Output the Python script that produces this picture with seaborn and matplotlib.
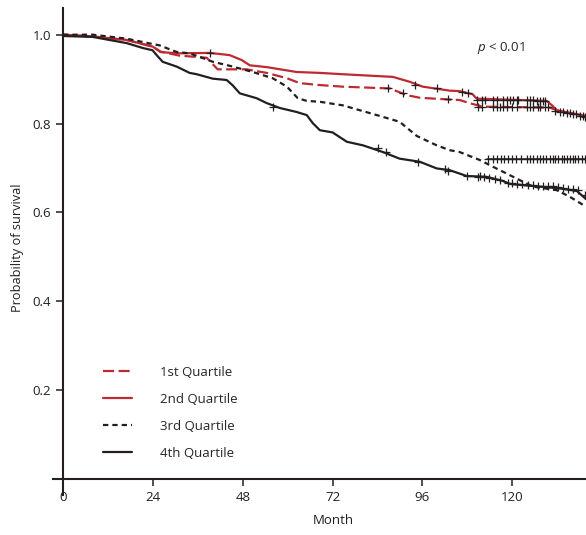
import seaborn as sns
import pandas as pd
import matplotlib.pyplot as plt

# survival curves (month, probability)
q1_month = [0, 8, 17, 24, 26, 31, 38.4, 39.7, 41.3, 49, 54.4, 59.8, 63.2, 68, 74.7, 87.3,
            91.8, 95.3, 103.3, 105.9, 109.4, 112.1, 130, 131.9, 139.7]
q1_surv = [1.0, 0.996, 0.988, 0.973, 0.962, 0.953, 0.948, 0.936, 0.922, 0.922, 0.914, 0.902,
           0.891, 0.887, 0.883, 0.879, 0.864, 0.858, 0.854, 0.853, 0.844, 0.838, 0.836, 0.830, 0.815]

q2_month = [0, 8, 17, 24, 26, 30.4, 39.2, 44.5, 47.7, 49.9, 54.4, 62.4, 68.6, 74.7, 88.1,
            92.6, 96.1, 103.3, 105.9, 109.4, 110.5, 129.2, 130.6, 131.9, 139.7]
q2_surv = [1.0, 0.996, 0.988, 0.973, 0.961, 0.958, 0.959, 0.954, 0.943, 0.931, 0.927, 0.916,
           0.914, 0.911, 0.905, 0.894, 0.883, 0.874, 0.873, 0.866, 0.856, 0.851, 0.841, 0.830, 0.817]

q3_month = [0, 7.9, 17.0, 23.9, 25.8, 28.5, 30.4, 33.8, 36.5, 40.0, 44.5, 50.7, 56.0, 59.8,
            62.7, 65.1, 68.6, 74.7, 83.8, 89.9, 94.5, 99.8, 103.3, 105.9, 111.3, 114.8, 121.2,
            125.5, 131.9, 135.4, 139.7]
q3_surv = [1.0, 1.0, 0.991, 0.979, 0.976, 0.967, 0.961, 0.958, 0.950, 0.939, 0.930, 0.916,
           0.902, 0.883, 0.857, 0.851, 0.849, 0.841, 0.819, 0.804, 0.772, 0.751, 0.740, 0.736,
           0.718, 0.703, 0.676, 0.658, 0.650, 0.635, 0.613]

q4_month = [0, 7.9, 17.0, 21.3, 23.9, 25.0, 26.6, 30.4, 33.8, 35.7, 40.0, 43.7, 45.3, 47.2,
            51.7, 54.4, 57.9, 62.4, 65.1, 66.7, 68.6, 72.0, 75.8, 80.1, 85.4, 89.9, 95.3, 99.8,
            103.3, 107.8, 113.2, 117.4, 119.4, 127.4, 132.7, 137.3, 139.7]
q4_surv = [0.997, 0.995, 0.981, 0.970, 0.965, 0.954, 0.939, 0.928, 0.914, 0.911, 0.901, 0.898,
           0.886, 0.868, 0.857, 0.846, 0.835, 0.826, 0.819, 0.801, 0.785, 0.780, 0.759, 0.751,
           0.736, 0.721, 0.714, 0.699, 0.695, 0.682, 0.680, 0.671, 0.664, 0.658, 0.654, 0.648, 0.630]

# censored observations
q1_cens_month = [86.7, 90.8, 102.8, 110.8, 111.9, 114.8, 115.9, 116.7, 117.5, 118.5, 119.9,
                 121.2, 123.9, 124.7, 125.5, 126.8, 127.4, 128.7, 129.5]
q1_cens_surv = [0.881, 0.868, 0.855, 0.838, 0.838, 0.838, 0.838, 0.838, 0.838, 0.838, 0.838,
                0.838, 0.838, 0.838, 0.838, 0.837, 0.837, 0.837, 0.837]

q2_cens_month = [39.2, 93.9, 99.8, 106.5, 108.1, 110.5, 111.9, 112.7, 114.8, 115.9, 117.5,
                 118.5, 119.3, 120.1, 121.2, 121.5, 123.9, 124.7, 125.5, 126.6, 127.4, 128.2,
                 128.7, 131.4, 132.7, 133.5, 134.6, 135.4, 136.2, 137.0, 138.0, 138.8, 139.4]
q2_cens_surv = [0.959, 0.886, 0.879, 0.872, 0.868, 0.853, 0.853, 0.853, 0.852, 0.852, 0.852,
                0.852, 0.852, 0.852, 0.852, 0.852, 0.852, 0.852, 0.852, 0.851, 0.851, 0.851,
                0.851, 0.829, 0.827, 0.826, 0.824, 0.823, 0.822, 0.821, 0.818, 0.817, 0.815]

q3_cens_month = [113.5, 114.8, 115.9, 116.9, 117.7, 118.8, 119.9, 120.9, 122.3, 123.9, 124.7,
                 125.5, 126.6, 127.4, 128.2, 129.0, 130.0, 130.8, 131.4, 132.2, 133.2, 133.8,
                 134.6, 135.4, 136.2, 136.7, 137.5, 138.6, 139.4]
q3_cens_surv = [0.721] * len(q3_cens_month)

q4_cens_month = [56.0, 84.1, 86.2, 94.8, 102.0, 102.8, 107.8, 110.8, 111.3, 112.4, 113.7, 115.3,
                 116.7, 118.8, 119.9, 121.2, 122.6, 124.2, 125.5, 126.8, 128.2, 129.5, 130.8,
                 132.2, 133.5, 134.8, 136.2, 137.5, 139.4]
q4_cens_surv = [0.838, 0.746, 0.737, 0.714, 0.697, 0.694, 0.682, 0.680, 0.681, 0.680, 0.677,
                0.676, 0.674, 0.667, 0.667, 0.665, 0.664, 0.662, 0.661, 0.660, 0.660, 0.659,
                0.659, 0.658, 0.654, 0.652, 0.652, 0.650, 0.640]

names = ["1st Quartile", "2nd Quartile", "3rd Quartile", "4th Quartile"]
red = "#BE2A32"
black = "#231F20"

curves = pd.concat([
    pd.DataFrame({"Month": q1_month, "Survival": q1_surv, "group": names[0]}),
    pd.DataFrame({"Month": q2_month, "Survival": q2_surv, "group": names[1]}),
    pd.DataFrame({"Month": q3_month, "Survival": q3_surv, "group": names[2]}),
    pd.DataFrame({"Month": q4_month, "Survival": q4_surv, "group": names[3]}),
], axis=0)

cens = pd.DataFrame({
    "Month": q1_cens_month + q2_cens_month + q3_cens_month + q4_cens_month,
    "Survival": q1_cens_surv + q2_cens_surv + q3_cens_surv + q4_cens_surv,
})
# the 3rd quartile censor marks sit on a flat line of their own
plateau = pd.DataFrame({"Month": [q3_cens_month[0] - 0.3, 139.7],
                        "Survival": [q3_cens_surv[0], q3_cens_surv[0]]})

sns.set_style("white")
plt.rcParams["font.family"] = ["Open Sans", "DejaVu Sans"]
plt.rcParams["mathtext.fontset"] = "custom"
plt.rcParams["mathtext.it"] = "Open Sans:italic"

fig, ax = plt.subplots(figsize=(5.86, 5.35), dpi=100)
fig.subplots_adjust(left=0.0904, right=1.0, bottom=0.0748, top=0.985)

palette = {names[0]: red, names[1]: red, names[2]: black, names[3]: black}
dashes = {names[0]: (5, 2), names[1]: "", names[2]: (2.4, 1.8), names[3]: ""}

sns.lineplot(x="Month", y="Survival", hue="group", style="group", data=curves,
             palette=palette, dashes=dashes, estimator=None, sort=False,
             linewidth=1.6, ax=ax)
sns.lineplot(x="Month", y="Survival", data=plateau, color=black, linewidth=1.1,
             estimator=None, legend=False, ax=ax)
sns.scatterplot(x="Month", y="Survival", data=cens, marker="+", s=40, color=black,
                linewidth=0.9, legend=False, ax=ax, zorder=5)

handles, labels = ax.get_legend_handles_labels()
ax.legend(handles, labels, frameon=False, loc="upper left",
          bbox_to_anchor=(0.1758, 1 - 366 / 535), bbox_transform=fig.transFigure,
          borderpad=0, borderaxespad=0, handlelength=2.2, handletextpad=2.1,
          labelspacing=1.05, fontsize=9.5)

ax.text(110.5, 0.970, "$p$ < 0.01", ha="left", va="center", fontsize=9.5)

ax.set_xlim(-2.7, 139.7)
ax.set_ylim(-0.036, 1.06)
ax.spines["left"].set_position(("data", 0))
ax.spines["bottom"].set_position(("data", 0))
ax.spines["top"].set_visible(False)
ax.spines["right"].set_visible(False)
for s in ["left", "bottom"]:
    ax.spines[s].set_linewidth(1.5)
    ax.spines[s].set_color(black)
ax.set_xticks([0, 24, 48, 72, 96, 120])
ax.set_yticks([0.2, 0.4, 0.6, 0.8, 1.0])
ax.set_yticklabels(["0.2", "0.4", "0.6", "0.8", "1.0"])
ax.tick_params(direction="out", length=5, width=1.1, color=black, labelsize=9.5,
               labelcolor=black, left=True, bottom=True)
ax.set_xlabel("Month", fontsize=9.5, color=black)
ax.set_ylabel("Probability of survival", fontsize=9.2, color=black)
ax.yaxis.set_label_coords(24 / 586, 1 - 248 / 535, transform=fig.transFigure)
ax.xaxis.set_label_coords(333 / 586, 1 - 514 / 535, transform=fig.transFigure)

plt.savefig("out.png", dpi=100)
